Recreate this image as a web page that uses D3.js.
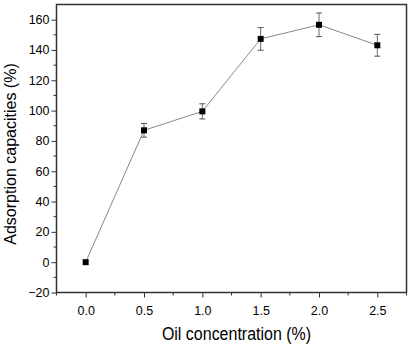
<!DOCTYPE html>
<html><head><meta charset="utf-8">
<script src="https://cdn.jsdelivr.net/npm/d3@7"></script>
<style>html,body{margin:0;padding:0;background:#fff;}svg{display:block;}</style>
</head><body>
<script>
const concentrations = [0.0, 0.5, 1.0, 1.5, 2.0, 2.5];
const capacities = [0, 87, 99.5, 147.3, 156.6, 143.1];
const errors = [0, 4.5, 5, 7.5, 7.8, 7.2];
const xTicks = [0.0, 0.5, 1.0, 1.5, 2.0, 2.5];
const yTicks = [-20, 0, 20, 40, 60, 80, 100, 120, 140, 160];

const W = 412, H = 346;
const m = {left: 56.5, top: 4.5, right: 5.5, bottom: 53.5};
const svg = d3.select("body").append("svg").attr("width", W).attr("height", H);
const x = d3.scaleLinear().domain([-0.25, 2.75]).range([m.left, W - m.right]);
const y = d3.scaleLinear().domain([-20, 170]).range([H - m.bottom, m.top]);
const font = "Liberation Sans, Arial, sans-serif";
const axisColor = "#333";

// minor ticks
const minorX = d3.range(-0.25, 2.76, 0.25).filter(v => Math.abs(v*2 - Math.round(v*2)) > 0.01);
const minorY = d3.range(-10, 170, 20);

const gx = svg.append("g").attr("transform", `translate(0,${H - m.bottom})`)
  .call(d3.axisBottom(x).tickValues(xTicks).tickFormat(d3.format(".1f")).tickSize(5).tickPadding(8.5));
const gy = svg.append("g").attr("transform", `translate(${m.left},0)`)
  .call(d3.axisLeft(y).tickValues(yTicks).tickSize(5).tickPadding(2));
[gx, gy].forEach(g => {
  g.select(".domain").remove();
  g.selectAll("line").attr("stroke", axisColor).attr("stroke-width", 1);
  g.selectAll("text").attr("font-family", font).attr("font-size", 12.5).attr("fill", "#000");
});
gx.selectAll(".minor").data(minorX).enter().append("line").attr("class", "minor")
  .attr("x1", d => x(d)).attr("x2", d => x(d)).attr("y1", 0).attr("y2", 3)
  .attr("stroke", axisColor);
gy.selectAll(".minor").data(minorY).enter().append("line").attr("class", "minor")
  .attr("y1", d => y(d)).attr("y2", d => y(d)).attr("x1", 0).attr("x2", -3)
  .attr("stroke", axisColor);

// frame
svg.append("rect").attr("x", m.left).attr("y", m.top)
  .attr("width", W - m.right - m.left).attr("height", H - m.bottom - m.top)
  .attr("fill", "none").attr("stroke", axisColor).attr("stroke-width", 1.5);

// line
const data = concentrations.map((c, i) => ({c, v: capacities[i], e: errors[i]}));
svg.append("path").datum(data)
  .attr("d", d3.line().x(d => x(d.c)).y(d => y(d.v)))
  .attr("fill", "none").attr("stroke", "#888").attr("stroke-width", 1);

// error bars
const eb = svg.append("g").selectAll("g").data(data.filter(d => d.e > 0)).enter().append("g");
eb.append("line").attr("x1", d => x(d.c)).attr("x2", d => x(d.c))
  .attr("y1", d => y(d.v - d.e)).attr("y2", d => y(d.v + d.e)).attr("stroke", "#666").attr("stroke-width", 1);
eb.append("line").attr("x1", d => x(d.c) - 3).attr("x2", d => x(d.c) + 3)
  .attr("y1", d => y(d.v - d.e)).attr("y2", d => y(d.v - d.e)).attr("stroke", "#555").attr("stroke-width", 1);
eb.append("line").attr("x1", d => x(d.c) - 3).attr("x2", d => x(d.c) + 3)
  .attr("y1", d => y(d.v + d.e)).attr("y2", d => y(d.v + d.e)).attr("stroke", "#555").attr("stroke-width", 1);

// markers
svg.append("g").selectAll("rect").data(data).enter().append("rect")
  .attr("x", d => x(d.c) - 3).attr("y", d => y(d.v) - 3)
  .attr("width", 6).attr("height", 6).attr("fill", "#000");

// labels
svg.append("text").attr("transform", "translate(236.5,340) scale(1,1.12)")
  .attr("text-anchor", "middle").attr("font-family", font).attr("font-size", 16)
  .text("Oil concentration (%)");
svg.append("text").attr("transform", `translate(16,154) rotate(-90)`)
  .attr("text-anchor", "middle").attr("font-family", font).attr("font-size", 16)
  .text("Adsorption capacities (%)");
</script>
</body></html>
